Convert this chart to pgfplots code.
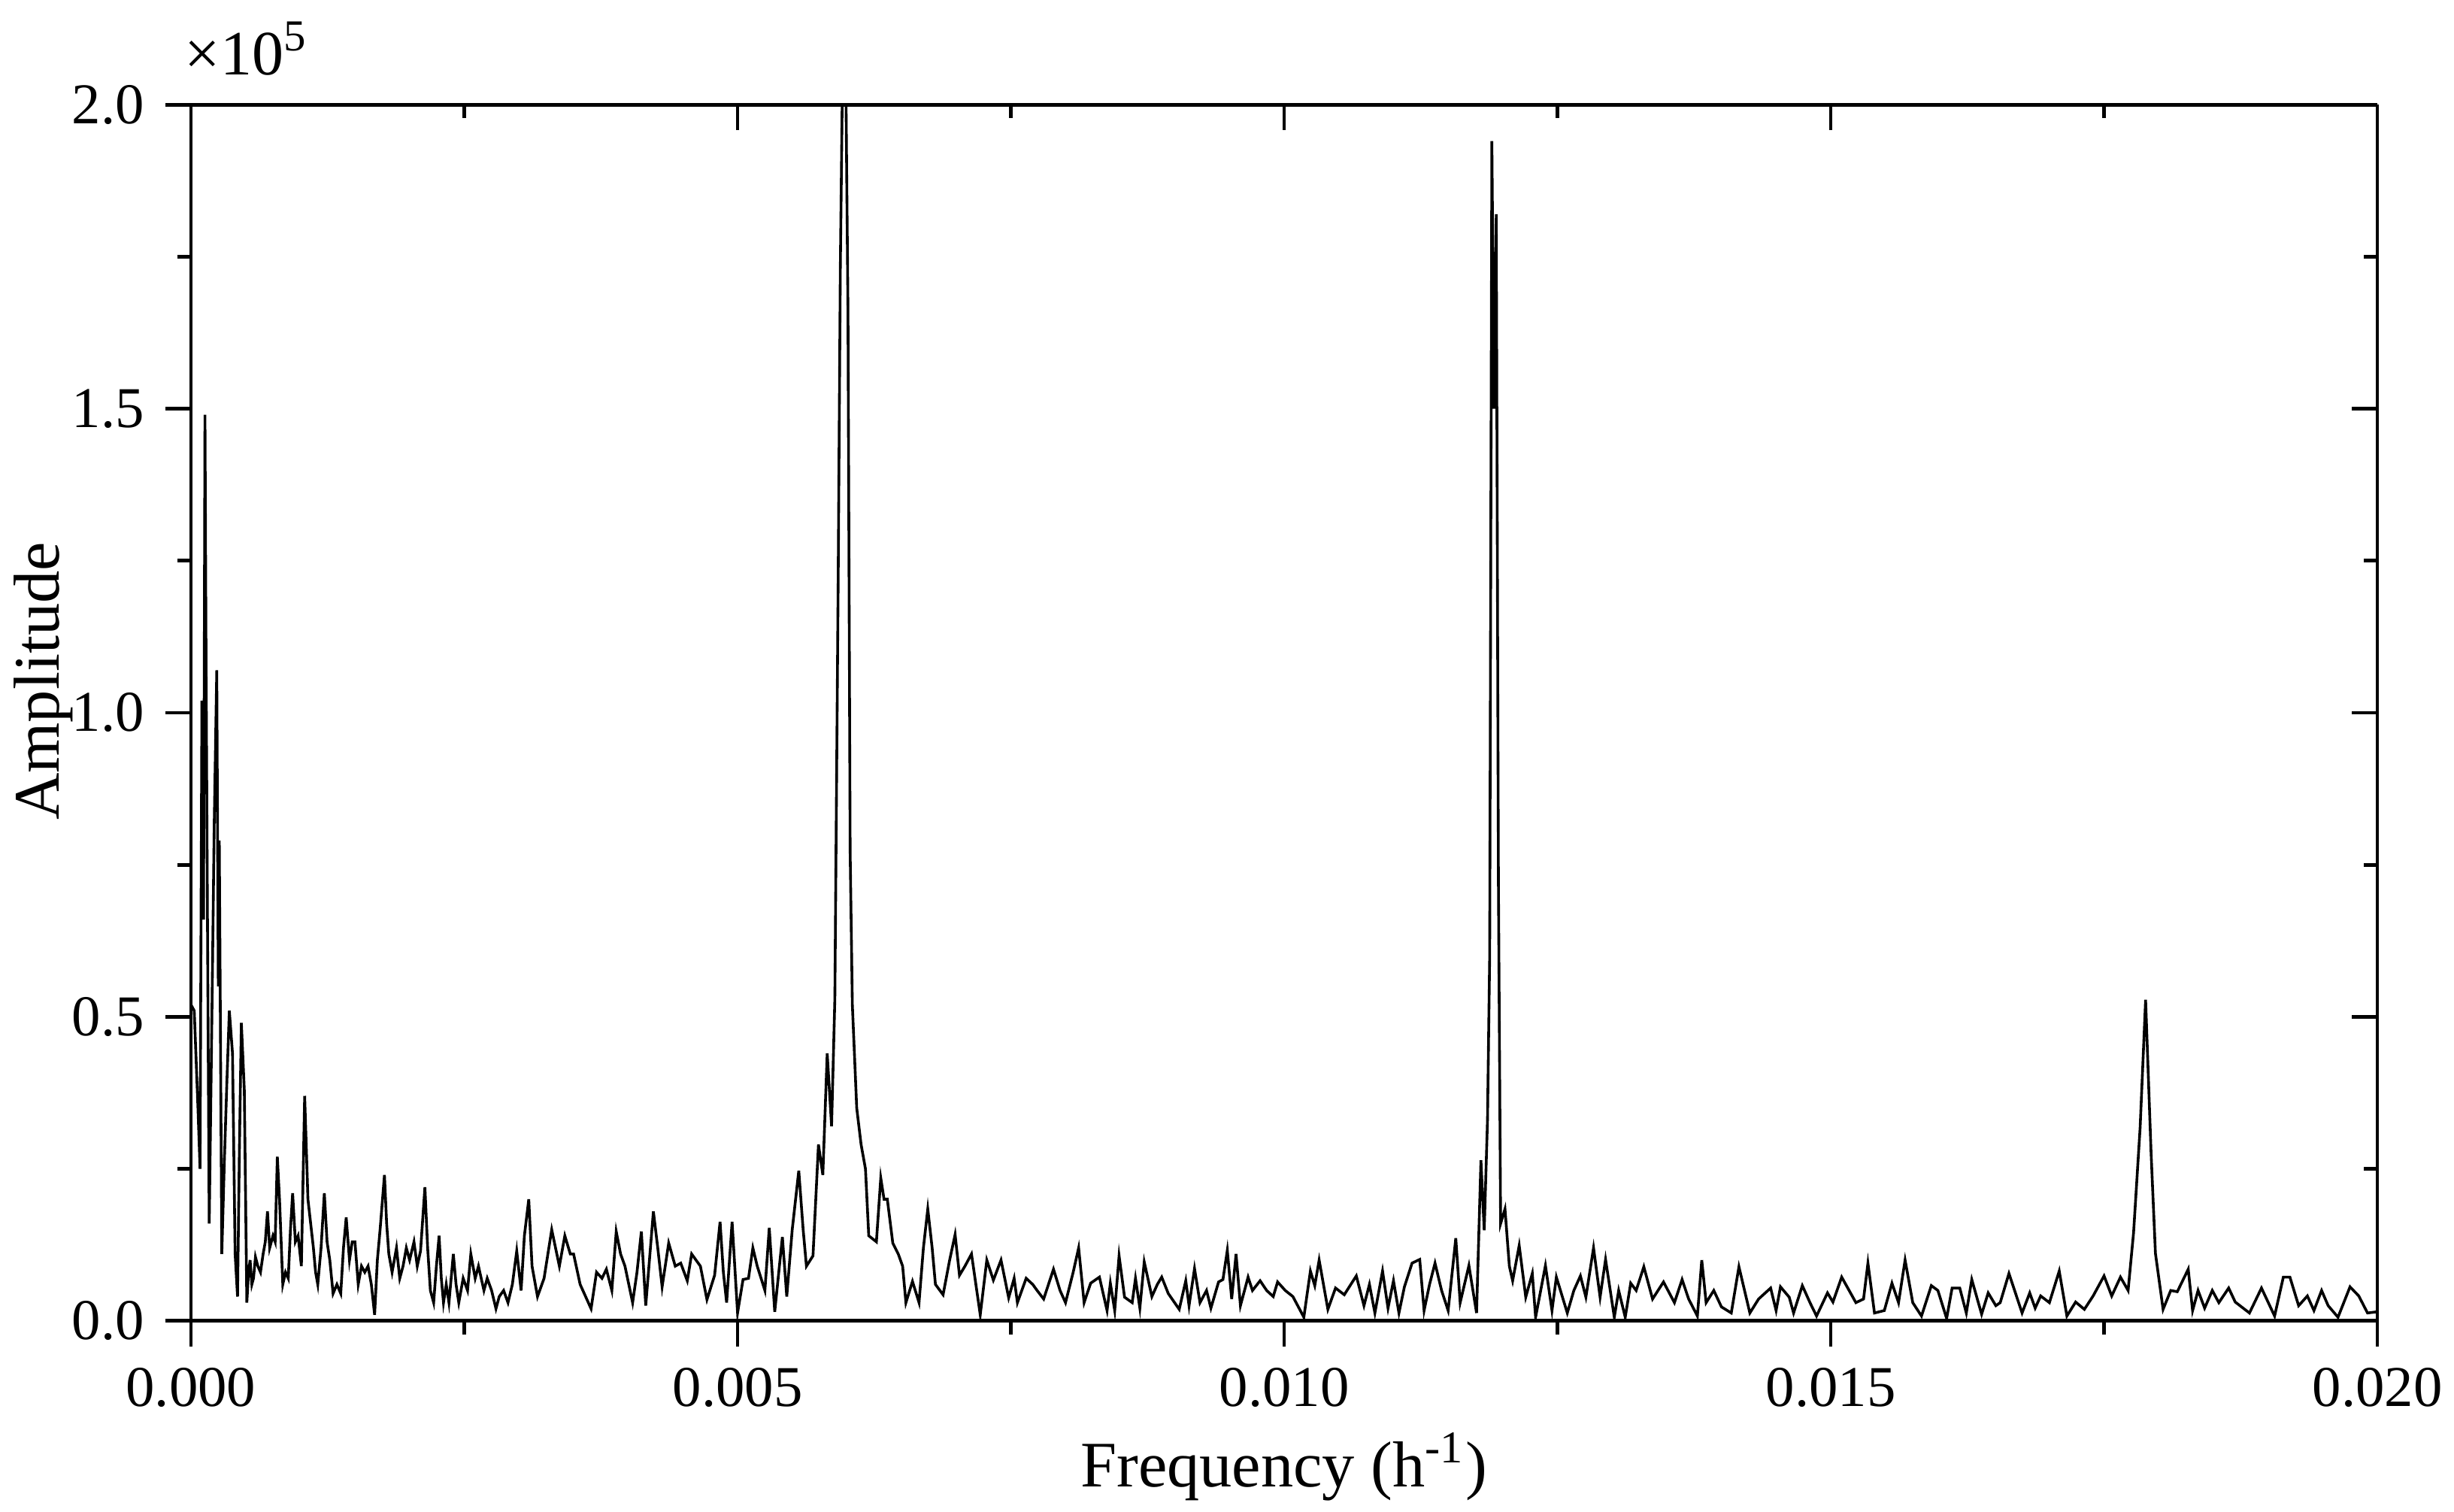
\documentclass[border=0pt]{standalone}
\usepackage{fontspec}
\setmainfont{Liberation Serif}
\usepackage{pgfplots}
\usepackage{pgfplotstable}
\pgfplotsset{compat=1.18}

% amplitude in units of 10^5
\pgfplotstableread{
f a
0.000000 0.52
0.000030 0.51
0.000064 0.35
0.000083 0.25
0.000100 1.02
0.000115 0.66
0.000128 1.49
0.000138 1.09
0.000151 0.66
0.000167 0.16
0.000190 0.48
0.000213 0.82
0.000236 1.07
0.000250 0.55
0.000259 0.79
0.000282 0.11
0.000305 0.26
0.000328 0.39
0.000351 0.51
0.000380 0.44
0.000404 0.11
0.000426 0.04
0.000443 0.28
0.000461 0.49
0.000488 0.38
0.000511 0.03
0.000527 0.08
0.000541 0.10
0.000557 0.06
0.000572 0.07
0.000590 0.105
0.000612 0.09
0.000636 0.08
0.000660 0.11
0.000680 0.13
0.000700 0.18
0.000720 0.12
0.000750 0.14
0.000770 0.13
0.000790 0.27
0.000810 0.20
0.000840 0.06
0.000865 0.08
0.000890 0.07
0.000910 0.15
0.000930 0.21
0.000955 0.13
0.000980 0.14
0.001010 0.09
0.001040 0.37
0.001070 0.20
0.001095 0.16
0.001120 0.12
0.001140 0.08
0.001160 0.06
0.001190 0.12
0.001220 0.21
0.001245 0.13
0.001270 0.10
0.001300 0.045
0.001335 0.06
0.001370 0.045
0.001395 0.12
0.001420 0.17
0.001450 0.10
0.001475 0.13
0.001500 0.13
0.001530 0.06
0.001560 0.09
0.001590 0.08
0.001620 0.09
0.001650 0.06
0.001680 0.01
0.001705 0.10
0.001730 0.15
0.001770 0.24
0.001790 0.16
0.001810 0.11
0.001840 0.08
0.001860 0.10
0.001880 0.12
0.001910 0.07
0.001940 0.09
0.001970 0.12
0.002000 0.10
0.002040 0.13
0.002070 0.09
0.002100 0.115
0.002140 0.22
0.002165 0.12
0.002190 0.05
0.002220 0.03
0.002245 0.09
0.002270 0.14
0.002290 0.07
0.002310 0.03
0.002335 0.06
0.002360 0.03
0.002380 0.07
0.002400 0.11
0.002425 0.06
0.002450 0.03
0.002490 0.07
0.002530 0.05
0.002560 0.11
0.002600 0.07
0.002630 0.09
0.002680 0.05
0.002710 0.07
0.002750 0.05
0.002790 0.02
0.002820 0.04
0.002860 0.05
0.002900 0.03
0.002940 0.06
0.002980 0.115
0.003020 0.05
0.003050 0.14
0.003090 0.20
0.003120 0.09
0.003170 0.04
0.003230 0.07
0.003300 0.15
0.003370 0.09
0.003420 0.14
0.003470 0.11
0.003500 0.11
0.003560 0.06
0.003610 0.04
0.003660 0.02
0.003710 0.08
0.003760 0.07
0.003800 0.085
0.003850 0.05
0.003890 0.147
0.003930 0.11
0.003970 0.09
0.004040 0.03
0.004080 0.08
0.004120 0.147
0.004160 0.025
0.004230 0.18
0.004270 0.12
0.004310 0.056
0.004370 0.128
0.004430 0.09
0.004480 0.095
0.004540 0.066
0.004580 0.11
0.004620 0.10
0.004660 0.09
0.004720 0.035
0.004790 0.075
0.004840 0.163
0.004870 0.08
0.004900 0.03
0.004950 0.163
0.005000 0.013
0.005050 0.068
0.005100 0.07
0.005140 0.12
0.005180 0.09
0.005250 0.05
0.005290 0.153
0.005340 0.015
0.005410 0.138
0.005450 0.04
0.005500 0.15
0.005560 0.247
0.005600 0.15
0.005630 0.09
0.005690 0.107
0.005740 0.29
0.005780 0.24
0.005820 0.44
0.005860 0.32
0.005890 0.53
0.005920 1.21
0.005940 1.73
0.005960 2.05
0.005990 2.05
0.006010 1.66
0.006030 0.77
0.006050 0.52
0.006090 0.35
0.006130 0.29
0.006170 0.25
0.006200 0.14
0.006270 0.13
0.006310 0.235
0.006340 0.20
0.006370 0.20
0.006420 0.128
0.006470 0.11
0.006510 0.09
0.006540 0.03
0.006600 0.065
0.006660 0.03
0.006700 0.12
0.006740 0.184
0.006780 0.12
0.006810 0.06
0.006880 0.043
0.006940 0.10
0.006990 0.142
0.007030 0.075
0.007080 0.09
0.007140 0.11
0.007180 0.06
0.007220 0.01
0.007280 0.10
0.007340 0.067
0.007410 0.10
0.007480 0.038
0.007530 0.07
0.007560 0.03
0.007640 0.07
0.007700 0.06
0.007740 0.05
0.007800 0.036
0.007890 0.085
0.007950 0.05
0.008000 0.03
0.008070 0.08
0.008120 0.12
0.008170 0.03
0.008230 0.062
0.008310 0.072
0.008380 0.017
0.008410 0.062
0.008450 0.017
0.008490 0.107
0.008540 0.039
0.008610 0.03
0.008640 0.07
0.008680 0.021
0.008720 0.097
0.008790 0.04
0.008840 0.06
0.008880 0.072
0.008940 0.045
0.009040 0.019
0.009100 0.066
0.009130 0.025
0.009180 0.086
0.009230 0.03
0.009290 0.05
0.009330 0.021
0.009400 0.064
0.009440 0.068
0.009480 0.116
0.009520 0.036
0.009560 0.11
0.009600 0.025
0.009670 0.072
0.009710 0.05
0.009780 0.066
0.009840 0.05
0.009900 0.04
0.009940 0.064
0.010010 0.05
0.010080 0.04
0.010180 0.006
0.010240 0.082
0.010280 0.058
0.010320 0.10
0.010400 0.019
0.010470 0.054
0.010550 0.043
0.010610 0.06
0.010660 0.074
0.010730 0.025
0.010780 0.06
0.010830 0.013
0.010900 0.082
0.010950 0.021
0.011000 0.066
0.011050 0.013
0.011100 0.056
0.011170 0.095
0.011240 0.101
0.011280 0.017
0.011330 0.06
0.011380 0.095
0.011440 0.05
0.011500 0.017
0.011570 0.136
0.011610 0.03
0.011690 0.091
0.011760 0.013
0.011800 0.264
0.011830 0.149
0.011860 0.33
0.011880 0.60
0.011900 1.94
0.011920 1.50
0.011940 1.82
0.011960 0.72
0.011980 0.16
0.012020 0.184
0.012060 0.09
0.012090 0.066
0.012150 0.124
0.012210 0.039
0.012270 0.078
0.012300 0.006
0.012390 0.091
0.012450 0.017
0.012490 0.072
0.012590 0.013
0.012650 0.05
0.012710 0.074
0.012760 0.039
0.012830 0.12
0.012890 0.039
0.012940 0.101
0.013020 0.006
0.013060 0.05
0.013120 0.006
0.013170 0.062
0.013220 0.05
0.013290 0.089
0.013370 0.036
0.013470 0.064
0.013570 0.03
0.013640 0.068
0.013700 0.036
0.013780 0.008
0.013820 0.10
0.013860 0.03
0.013930 0.05
0.014000 0.023
0.014090 0.013
0.014160 0.089
0.014260 0.013
0.014340 0.036
0.014450 0.054
0.014500 0.017
0.014540 0.056
0.014620 0.039
0.014660 0.013
0.014740 0.058
0.014810 0.03
0.014870 0.008
0.014970 0.046
0.015020 0.031
0.015100 0.072
0.015230 0.03
0.015300 0.036
0.015340 0.095
0.015400 0.013
0.015490 0.017
0.015560 0.062
0.015620 0.03
0.015680 0.10
0.015750 0.03
0.015830 0.008
0.015920 0.058
0.015980 0.05
0.016060 0.004
0.016110 0.054
0.016180 0.054
0.016240 0.013
0.016290 0.068
0.016380 0.011
0.016440 0.046
0.016510 0.025
0.016550 0.03
0.016630 0.078
0.016750 0.013
0.016820 0.046
0.016870 0.021
0.016920 0.041
0.017000 0.03
0.017090 0.082
0.017160 0.008
0.017240 0.031
0.017320 0.019
0.017400 0.041
0.017500 0.074
0.017570 0.041
0.017650 0.072
0.017720 0.05
0.017770 0.145
0.017830 0.318
0.017880 0.528
0.017930 0.277
0.017970 0.111
0.018040 0.019
0.018110 0.05
0.018170 0.048
0.018270 0.085
0.018310 0.017
0.018360 0.05
0.018420 0.021
0.018490 0.05
0.018550 0.03
0.018640 0.054
0.018700 0.031
0.018830 0.013
0.018940 0.054
0.019060 0.008
0.019140 0.072
0.019200 0.072
0.019280 0.025
0.019360 0.041
0.019420 0.017
0.019490 0.05
0.019550 0.025
0.019640 0.006
0.019750 0.056
0.019830 0.041
0.019910 0.013
0.020000 0.015
}\spec

\pgfplotsset{
  frame/.style={
    scale only axis, width=363.5pt, height=202.2pt,
    xmin=0, xmax=0.02, ymin=0, ymax=2,
    xtick={0,0.005,0.01,0.015,0.02}, ytick={0,0.5,1,1.5,2},
    minor x tick num=1, minor y tick num=1,
    major tick length=4.25pt, minor tick length=2.25pt,
    scaled x ticks=false, scaled y ticks=false,
    axis line style={line width=0.6pt, -},
    every tick/.style={line width=0.6pt, black},
    every minor tick/.style={line width=0.6pt, black},
  },
}

\begin{document}
\begin{tikzpicture}
  \begin{axis}[frame, name=ax, clip mode=individual,
      axis x line*=bottom, axis y line*=left, tick align=outside,
      ticklabel style={font=\fontsize{9.6}{11}\selectfont},
      xticklabel style={/pgf/number format/.cd, fixed, fixed zerofill, precision=3, assume math mode=true},
      yticklabel style={/pgf/number format/.cd, fixed, fixed zerofill, precision=1, assume math mode=true},
      label style={font=\fontsize{10.8}{13}\selectfont},
      xlabel={Frequency (h\textsuperscript{-1})},
      xlabel style={at={(axis description cs:0.5,-0.1365)}, anchor=base},
      ylabel={Amplitude},
      ylabel style={at={(axis description cs:-0.0605,0.526)}, anchor=base},
    ]
    \addplot[black, line width=0.45pt] table[x=f, y=a] {\spec};
    \node[anchor=base west, inner sep=0pt, font=\fontsize{10.5}{12}\selectfont]
      at (axis description cs:-0.0034,1.0247) {×10\textsuperscript{5}};
  \end{axis}
  \begin{axis}[frame,
      axis x line*=top, axis y line*=right, tick align=inside,
      xticklabels={}, yticklabels={},
    ]
  \end{axis}
  \pgfresetboundingbox
  \path[use as bounding box] ([shift={(-31.75pt,-31.65pt)}]ax.south west)
    rectangle ([shift={(12.75pt,17.4pt)}]ax.north east);
\end{tikzpicture}
\end{document}
